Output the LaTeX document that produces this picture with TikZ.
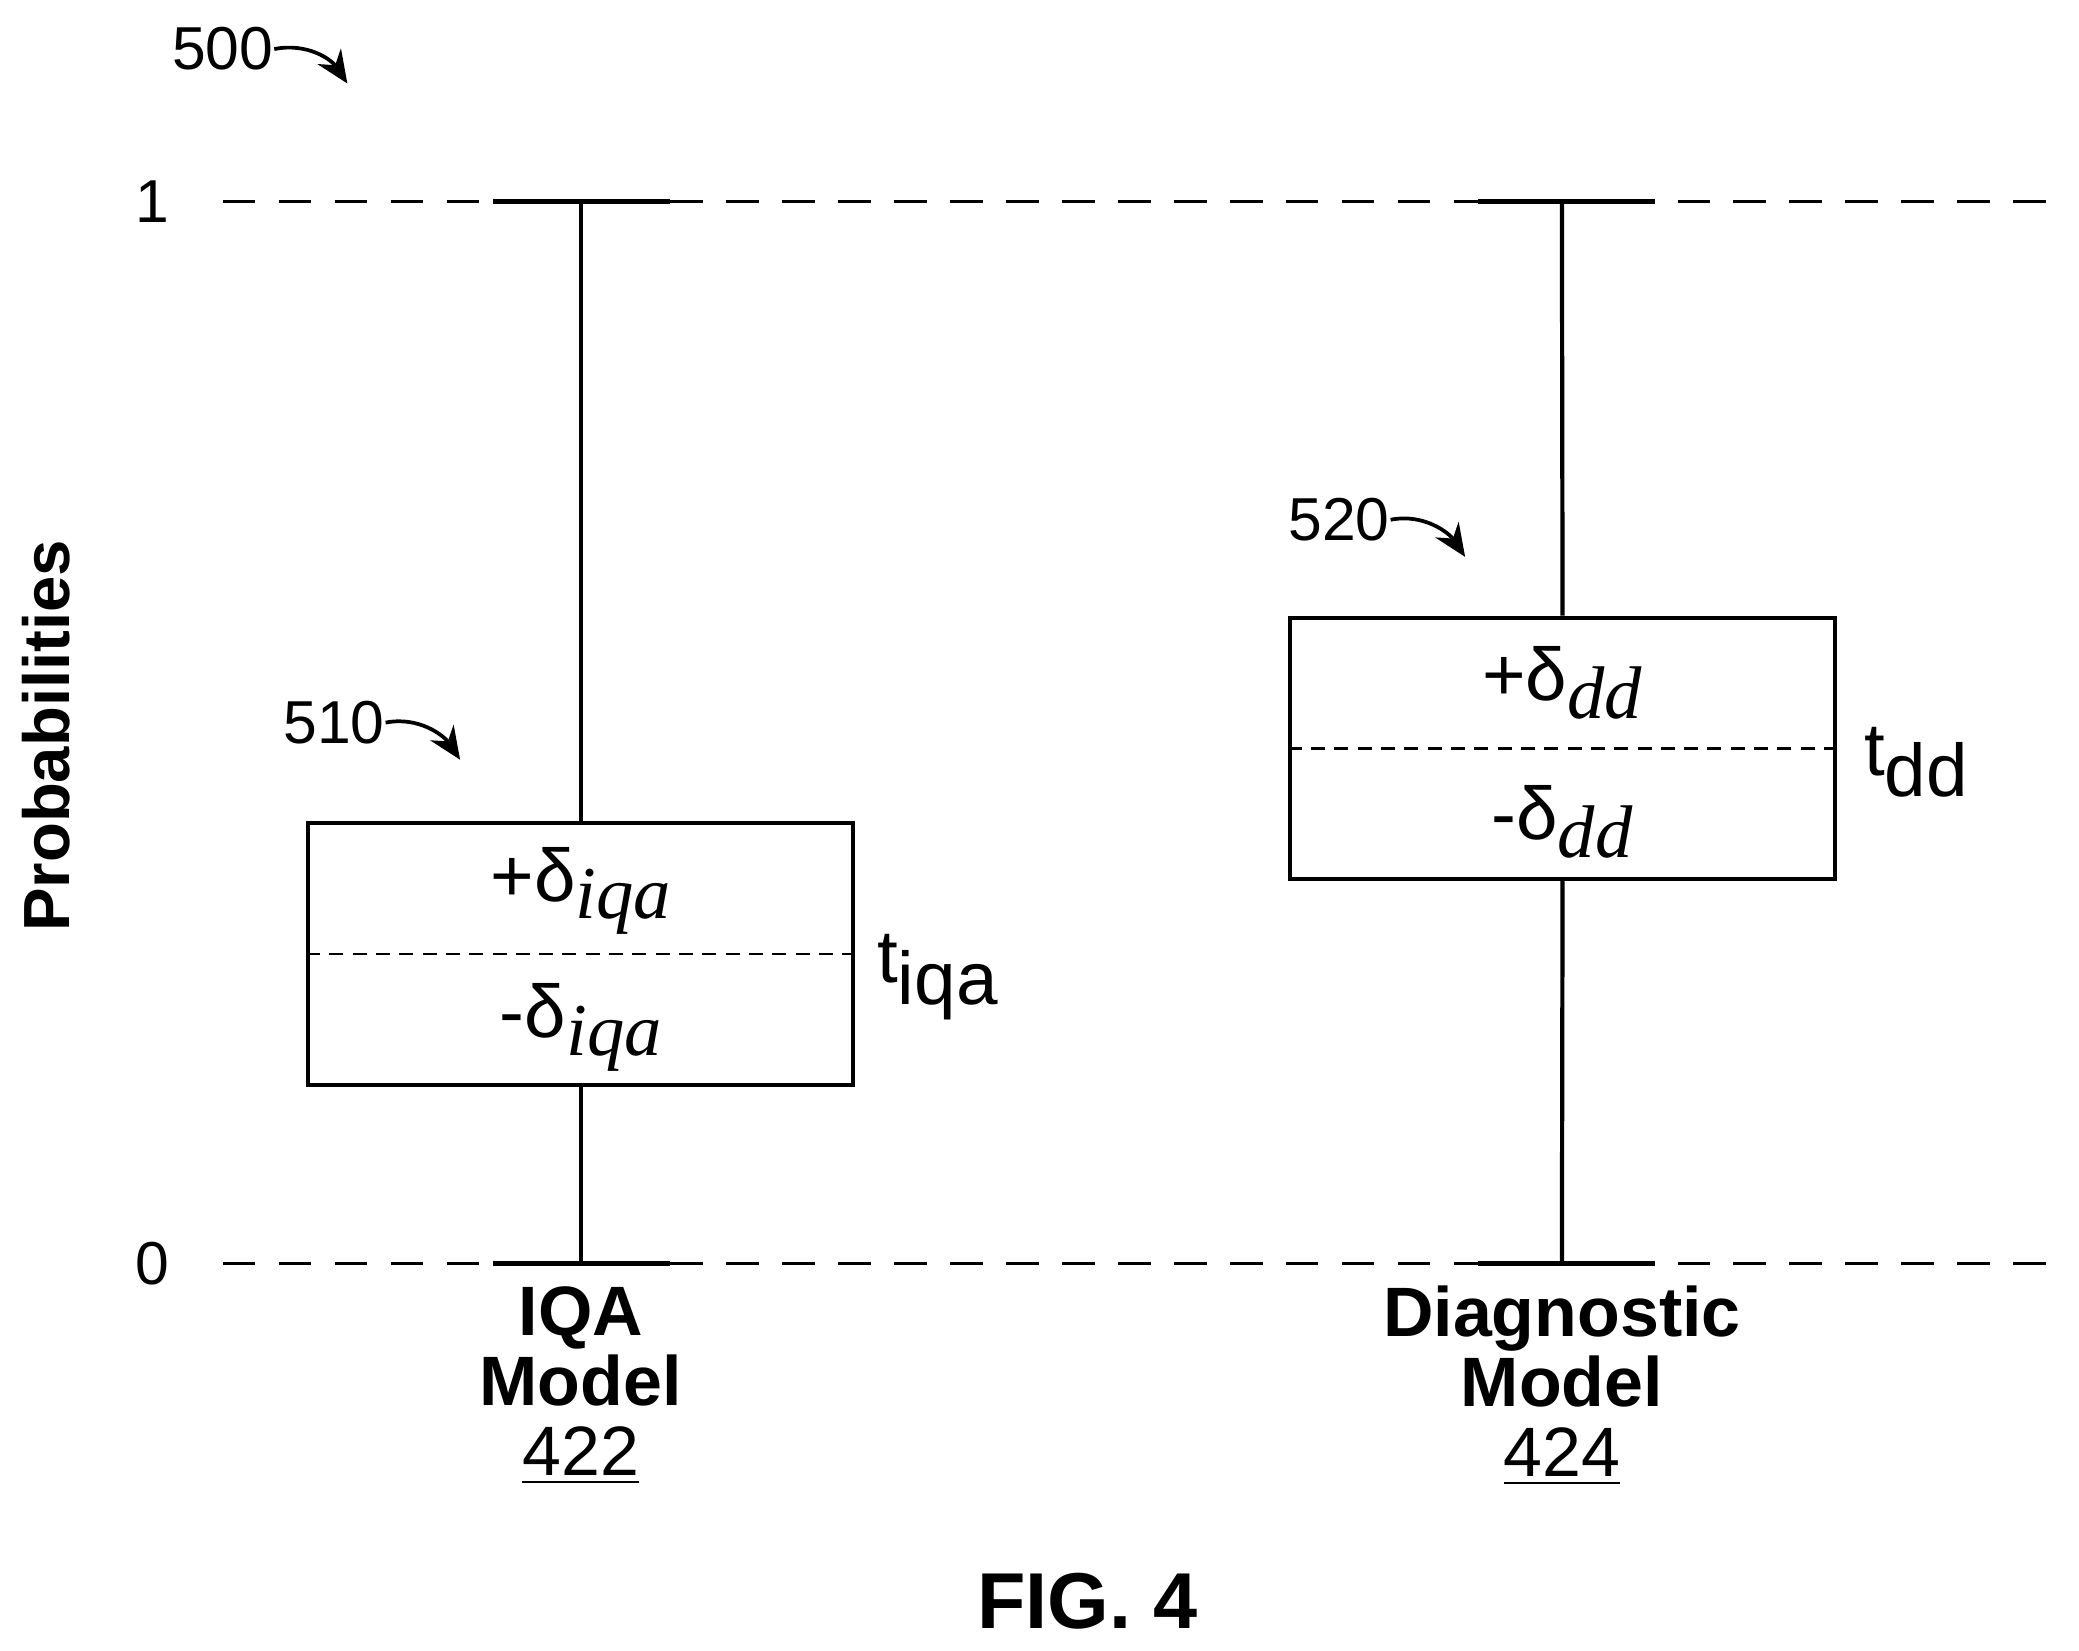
\documentclass[tikz,border=0pt]{standalone}
\usepackage{fontspec}
\setmainfont{Liberation Sans}
\newfontfamily\serifit{Liberation Serif}[Scale=1.0]
\usetikzlibrary{arrows.meta}
\begin{document}
\begin{tikzpicture}[x=0.01cm,y=-0.01cm,
  lbl/.style={font=\fontsize{13}{15}\selectfont, inner sep=0pt},
  bold/.style={font=\fontsize{15}{16}\selectfont\bfseries, inner sep=0pt, align=center},
  dl/.style={font=\fontsize{16}{18}\selectfont, inner sep=0pt},
  ref/.style={-{Stealth[length=7pt,width=6pt]}, line width=0.8pt},
  grid/.style={dash pattern=on 7pt off 5pt, line width=0.7pt},
  sol/.style={line width=0.9pt},
  box/.style={draw, line width=0.9pt, minimum width=4.11cm, minimum height=1.97cm, inner sep=0pt}]
\useasboundingbox (0,0) rectangle (1568,1245);
% axes
\coordinate (l1a) at (168,152); \coordinate (l1b) at (1552,152);
\coordinate (l0a) at (168,953); \coordinate (l0b) at (1552,953);
\draw[grid] (l1a) -- (l1b);
\draw[grid] (l0a) -- (l0b);
\node[lbl] (one) at (115,152) {1};
\node[lbl] (zero) at (115,953) {0};
\node[font=\fontsize{14}{16}\selectfont\bfseries, rotate=90, inner sep=0pt] (prob) at (35,555) {Probabilities};
% left box plot
\node[box] (b1) at (438,719.5) {};
\coordinate (t1) at (438,152); \coordinate (u1) at (438,953);
\draw[sol] (t1) -- (b1.north); \draw[sol] (b1.south) -- (u1);
\coordinate (c1a) at (372,152); \coordinate (c1b) at (505,152);
\coordinate (d1a) at (372,953); \coordinate (d1b) at (505,953);
\draw[sol] (c1a) -- (c1b); \draw[sol] (d1a) -- (d1b);
\draw[dash pattern=on 3pt off 2pt, line width=0.6pt] (b1.west) -- (b1.east);
\node[dl] (p1) at (438,672) {+δ\raisebox{-0.45ex}{\serifit\itshape iqa}};
\node[dl] (m1) at (438,775) {-δ\raisebox{-0.45ex}{\serifit\itshape iqa}};
\node[dl] (ti) at (707,737) {t\raisebox{-0.55ex}{iqa}};
% right box plot
\node[box] (b2) at (1178.5,564.5) {};
\coordinate (t2) at (1178,152); \coordinate (u2) at (1178,953);
\draw[sol] (t2) -- (b2.north); \draw[sol] (b2.south) -- (u2);
\coordinate (c2a) at (1115,152); \coordinate (c2b) at (1248,152);
\coordinate (d2a) at (1115,953); \coordinate (d2b) at (1248,953);
\draw[sol] (c2a) -- (c2b); \draw[sol] (d2a) -- (d2b);
\draw[dash pattern=on 3pt off 2pt, line width=0.6pt] (b2.west) -- (b2.east);
\node[dl] (p2) at (1178,515) {+δ\raisebox{-0.45ex}{\serifit\itshape dd}};
\node[dl] (m2) at (1178,620) {-δ\raisebox{-0.45ex}{\serifit\itshape dd}};
\node[dl] (td) at (1445,575) {t\raisebox{-0.55ex}{dd}};
% reference numerals
\node[lbl] (n500) at (168,37) {500};
\coordinate (a500) at (262,63);
\draw[ref] (n500.east) .. controls (232,32) and (250,45) .. (a500);
\node[lbl] (n510) at (252,545) {510};
\coordinate (a510) at (347,573);
\draw[ref] (n510.east) .. controls (316,540) and (335,555) .. (a510);
\node[lbl] (n520) at (1010,392) {520};
\coordinate (a520) at (1105,420);
\draw[ref] (n520.east) .. controls (1074,387) and (1093,402) .. (a520);
% category labels
\node[bold] (iqa) at (438,1045) {IQA\\[-1pt]Model\\[-1pt]{\mdseries\underline{422}}};
\node[bold] (diag) at (1178,1045) {Diagnostic\\[-1pt]Model\\[-1pt]{\mdseries\underline{424}}};
\node[font=\fontsize{17}{18}\selectfont\bfseries, inner sep=0pt] (fig) at (820,1208) {FIG. 4};
\end{tikzpicture}
\end{document}
